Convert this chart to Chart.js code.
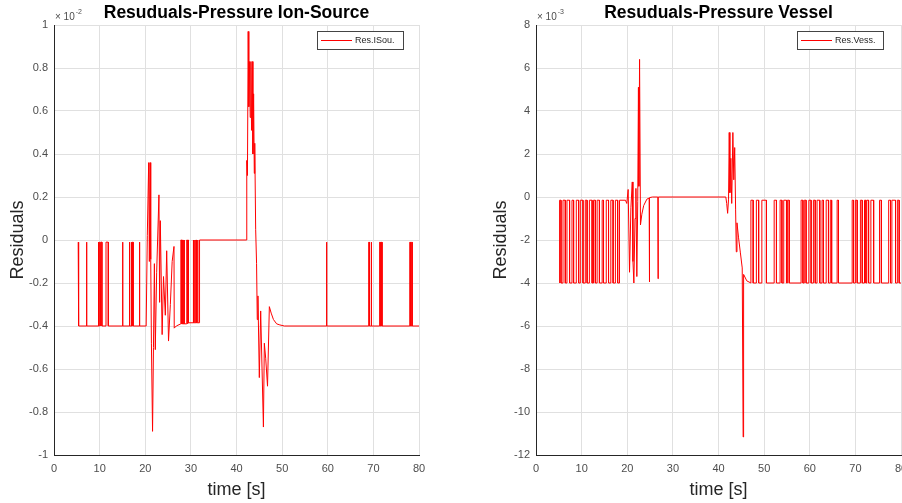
<!DOCTYPE html>
<html>
<head>
<meta charset="utf-8">
<script src="https://cdn.jsdelivr.net/npm/chart.js@4.4.0/dist/chart.umd.min.js"></script>
<style>
  html, body { margin: 0; padding: 0; background: #fff; overflow: hidden; }
  #wrap { position: relative; width: 902px; height: 503px; }
  .box { position: absolute; top: 0; width: 451px; height: 503px; }
</style>
</head>
<body>
<div id="wrap">
  <div class="box" style="left:0"><canvas id="ionChart"></canvas></div>
  <div class="box" style="left:451px"><canvas id="vesChart"></canvas></div>
</div>
<script>
// time axis ticks (s)
const timeTicks = [0, 10, 20, 30, 40, 50, 60, 70, 80];

// Ion source residuals, [time s, residual x 1e-2]
const ionSource = [
  [5.3, -0.01], [5.4, -0.01], [5.4, -0.40],
  [7.1, -0.40], [7.1, -0.01], [7.2, -0.01], [7.2, -0.40],
  [9.7, -0.40], [9.7, -0.01], [9.8, -0.01], [9.8, -0.40],
  [10.0, -0.40], [10.0, -0.01], [10.1, -0.01], [10.1, -0.40],
  [10.3, -0.40], [10.3, -0.01], [10.5, -0.01], [10.5, -0.40],
  [11.4, -0.40], [11.4, -0.01], [11.9, -0.01], [11.9, -0.40],
  [15.0, -0.40], [15.0, -0.01], [15.1, -0.01], [15.1, -0.40],
  [16.5, -0.40], [16.5, -0.01], [16.6, -0.01], [16.6, -0.40],
  [16.9, -0.40], [16.9, -0.01], [17.0, -0.01], [17.0, -0.40],
  [17.2, -0.40], [17.2, -0.01], [17.35, -0.01], [17.35, -0.40],
  [18.7, -0.40], [18.7, -0.01], [18.8, -0.01], [18.8, -0.40],
  [20.2, -0.40], [20.45, 0.02], [20.75, 0.36], [20.9, -0.10], [21.05, 0.36], [21.2, -0.09],
  [21.35, -0.48], [21.6, -0.89], [21.8, -0.50], [22.0, -0.11], [22.2, -0.51], [22.5, -0.15],
  [23.0, 0.21], [23.15, -0.29], [23.3, 0.09], [23.7, -0.44], [24.0, -0.17], [24.4, -0.35],
  [24.7, -0.05], [25.1, -0.47], [25.5, -0.30], [25.9, -0.10], [26.3, -0.03], [26.35, -0.41],
  [26.8, -0.40], [27.8, -0.39],
  [27.8, 0], [28.0, 0], [28.0, -0.39],
  [28.2, -0.39], [28.2, 0], [28.3, 0], [28.3, -0.39],
  [28.5, -0.39], [28.5, 0], [28.6, 0], [28.6, -0.39],
  [29.1, -0.39], [29.1, 0], [29.2, 0], [29.2, -0.39],
  [29.35, -0.39], [29.35, 0], [29.45, 0], [29.45, -0.385],
  [30.5, -0.385], [30.5, 0], [30.6, 0], [30.6, -0.385],
  [30.8, -0.385], [30.8, 0], [30.9, 0], [30.9, -0.385],
  [31.1, -0.385], [31.1, 0], [31.2, 0], [31.2, -0.385],
  [31.45, -0.385], [31.45, 0], [31.55, 0], [31.55, -0.385],
  [31.9, -0.385], [31.9, 0],
  [42.2, 0], [42.25, 0.37], [42.4, 0.30], [42.56, 0.97], [42.7, 0.62], [42.85, 0.83],
  [43.0, 0.57], [43.15, 0.83], [43.3, 0.51], [43.45, 0.83], [43.6, 0.40], [43.75, 0.68],
  [43.9, 0.31], [44.0, 0.45], [44.2, 0.05], [44.4, -0.11], [44.55, -0.37], [44.7, -0.26],
  [45.0, -0.64], [45.3, -0.33], [45.9, -0.87], [46.1, -0.48], [46.4, -0.55], [46.8, -0.68],
  [47.2, -0.31], [47.6, -0.34], [48.1, -0.37], [48.8, -0.39], [49.5, -0.395], [50.5, -0.40],
  [59.7, -0.40], [59.7, -0.01], [59.8, -0.01], [59.8, -0.40],
  [69.0, -0.40], [69.0, -0.01], [69.1, -0.01], [69.1, -0.40],
  [69.5, -0.40], [69.5, -0.01], [69.6, -0.01], [69.6, -0.40],
  [71.4, -0.40], [71.4, -0.01], [71.5, -0.01], [71.5, -0.40],
  [71.8, -0.40], [71.8, -0.01], [71.9, -0.01], [71.9, -0.40],
  [78.0, -0.40], [78.0, -0.01], [78.1, -0.01], [78.1, -0.40],
  [78.4, -0.40], [78.4, -0.01], [78.5, -0.01], [78.5, -0.40],
  [80.0, -0.40]
];

// Vessel residuals, [time s, residual x 1e-3]
const vessel = [
  [5.17, -4.0], [5.17, -0.15], [5.48, -0.15], [5.48, -4.0],
  [5.92, -4.0], [5.92, -0.15], [6.42, -0.15], [6.42, -4.0],
  [6.79, -4.0], [6.79, -0.15], [7.36, -0.15], [7.36, -4.0],
  [7.89, -4.0], [7.89, -0.15], [8.24, -0.15], [8.24, -4.0],
  [8.83, -4.0], [8.83, -0.15], [9.34, -0.15], [9.34, -4.0],
  [9.71, -4.0], [9.71, -0.15], [10.3, -0.15], [10.3, -4.0],
  [10.8, -4.0], [10.8, -0.15], [11.2, -0.15], [11.2, -4.0],
  [11.7, -4.0], [11.7, -0.15], [12.3, -0.15], [12.3, -4.0],
  [12.6, -4.0], [12.6, -0.15], [13.0, -0.15], [13.0, -4.0],
  [13.4, -4.0], [13.4, -0.15], [13.9, -0.15], [13.9, -4.0],
  [14.5, -4.0], [14.5, -0.15], [14.8, -0.15], [14.8, -4.0],
  [15.4, -4.0], [15.4, -0.15], [15.9, -0.15], [15.9, -4.0],
  [16.4, -4.0], [16.4, -0.15], [16.9, -0.15], [16.9, -4.0],
  [17.4, -4.0], [17.4, -0.15], [17.9, -0.15], [17.9, -4.0],
  [18.3, -4.0], [18.3, -0.15], [19.6, -0.15],
  [19.9, -0.3], [20.2, 0.35], [20.5, -3.5], [20.8, -0.5], [21.1, 0.7], [21.25, -3.0],
  [21.45, -4.0], [21.7, -1.0], [21.9, 0.4], [22.1, -3.7], [22.3, -0.2], [22.45, 5.1],
  [22.55, 0.5], [22.7, 6.4], [22.9, -1.3], [23.2, -0.8], [23.6, -0.4], [24.3, -0.1],
  [24.8, -0.05], [24.85, -3.95], [24.9, -0.03], [25.5, 0], [26.7, 0], [26.75, -3.8], [26.8, 0],
  [41.6, 0], [41.8, -0.3], [42.0, -0.76], [42.2, -0.1], [42.35, 3.0], [42.5, 0.2],
  [42.7, 1.8], [42.9, -0.3], [43.15, 3.0], [43.35, 0.8], [43.55, 2.3], [43.75, -0.6],
  [43.9, -2.55], [44.05, -1.2], [44.4, -1.9], [44.8, -2.6], [45.2, -3.3], [45.4, -11.16],
  [45.5, -3.6], [46.2, -3.9], [47.1, -4.0],
  [47.1, -0.15], [47.6, -0.15], [47.6, -4.0],
  [48.3, -4.0], [48.3, -0.15], [48.8, -0.15], [48.8, -4.0],
  [49.5, -4.0], [49.5, -0.15], [50.5, -0.15], [50.5, -4.0],
  [52.2, -4.0], [52.2, -0.15], [52.7, -0.15], [52.7, -4.0],
  [53.5, -4.0], [53.5, -0.15], [53.9, -0.15], [53.9, -4.0],
  [54.3, -4.0], [54.3, -0.15], [54.9, -0.15], [54.9, -4.0],
  [55.1, -4.0], [55.1, -0.15], [55.5, -0.15], [55.5, -4.0],
  [58.1, -4.0], [58.1, -0.15], [58.5, -0.15], [58.5, -4.0],
  [58.8, -4.0], [58.8, -0.15], [59.2, -0.15], [59.2, -4.0],
  [59.8, -4.0], [59.8, -0.15], [60.3, -0.15], [60.3, -4.0],
  [60.8, -4.0], [60.8, -0.15], [61.2, -0.15], [61.2, -4.0],
  [61.6, -4.0], [61.6, -0.15], [62.2, -0.15], [62.2, -4.0],
  [62.7, -4.0], [62.7, -0.15], [63.0, -0.15], [63.0, -4.0],
  [63.6, -4.0], [63.6, -0.15], [64.1, -0.15], [64.1, -4.0],
  [64.5, -4.0], [64.5, -0.15], [64.8, -0.15], [64.8, -4.0],
  [66.0, -4.0], [66.0, -0.15], [66.3, -0.15], [66.3, -4.0],
  [69.3, -4.0], [69.3, -0.15], [69.6, -0.15], [69.6, -4.0],
  [70.0, -4.0], [70.0, -0.15], [70.4, -0.15], [70.4, -4.0],
  [71.1, -4.0], [71.1, -0.15], [71.5, -0.15], [71.5, -4.0],
  [72.0, -4.0], [72.0, -0.15], [72.3, -0.15], [72.3, -4.0],
  [72.5, -4.0], [72.5, -0.15], [72.9, -0.15], [72.9, -4.0],
  [73.4, -4.0], [73.4, -0.15], [74.0, -0.15], [74.0, -4.0],
  [75.3, -4.0], [75.3, -0.15], [75.7, -0.15], [75.7, -4.0],
  [77.3, -4.0], [77.3, -0.15], [77.7, -0.15], [77.7, -4.0],
  [78.0, -4.0], [78.0, -0.15], [78.8, -0.15], [78.8, -4.0],
  [79.2, -4.0], [79.2, -0.15], [79.6, -0.15], [79.6, -4.0],
  [80.0, -4.0]
];

const FONT = '"Liberation Sans", Arial, Helvetica, sans-serif';
const AXIS = '#262626';

// titles, exponent, axis labels and the boxed legend, drawn MATLAB style
const decor = {
  id: 'decor',
  afterDraw(chart, args, o) {
    const ctx = chart.ctx;
    const a = chart.chartArea;
    const mid = (a.left + a.right) / 2;
    ctx.save();
    ctx.textAlign = 'center';
    ctx.textBaseline = 'middle';
    ctx.fillStyle = '#000';
    ctx.font = 'bold 17.5px ' + FONT;
    ctx.fillText(o.title, mid, 13);

    ctx.fillStyle = AXIS;
    ctx.font = '18px ' + FONT;
    ctx.fillText('time [s]', mid, 490);
    ctx.save();
    ctx.translate(o.yTitleX, (a.top + a.bottom) / 2);
    ctx.rotate(-Math.PI / 2);
    ctx.fillText('Residuals', 0, 0);
    ctx.restore();

    // exponent
    ctx.textAlign = 'left';
    ctx.textBaseline = 'alphabetic';
    ctx.fillStyle = '#4d4d4d';
    ctx.font = '10px ' + FONT;
    ctx.fillText('\u00d7 10', a.left + 1, 20);
    const w = ctx.measureText('\u00d7 10').width;
    ctx.font = '7px ' + FONT;
    ctx.fillText(o.exp, a.left + 2 + w, 14);

    // legend
    const bx = a.right - o.legendOff, by = 31, bw = 86, bh = 18;
    ctx.fillStyle = '#fff';
    ctx.fillRect(bx, by, bw, bh);
    ctx.strokeStyle = '#444';
    ctx.lineWidth = 1;
    ctx.strokeRect(bx + 0.5, by + 0.5, bw, bh);
    ctx.strokeStyle = '#ff0000';
    ctx.beginPath();
    ctx.moveTo(bx + 4, by + 9.5);
    ctx.lineTo(bx + 35, by + 9.5);
    ctx.stroke();
    ctx.fillStyle = AXIS;
    ctx.font = '9px ' + FONT;
    ctx.textBaseline = 'middle';
    ctx.fillText(chart.data.datasets[0].label, bx + 38, by + 10);
    ctx.restore();
  }
};

function residualChart(id, points, label, yMin, yMax, yStep, cfg) {
  const ctx = document.getElementById(id).getContext('2d');
  return new Chart(ctx, {
    type: 'line',
    data: {
      datasets: [{
        label: label,
        data: points.map(p => ({ x: p[0], y: p[1] })),
        borderColor: '#ff0000',
        borderWidth: 1,
        pointRadius: 0,
        tension: 0,
        fill: false
      }]
    },
    options: {
      responsive: true,
      maintainAspectRatio: false,
      animation: false,
      layout: { padding: { left: 0, right: cfg.padRight, top: 25, bottom: 0 } },
      plugins: {
        legend: { display: false },
        tooltip: { enabled: false },
        decor: cfg
      },
      scales: {
        x: {
          type: 'linear',
          min: timeTicks[0],
          max: timeTicks[timeTicks.length - 1],
          afterBuildTicks: s => { s.ticks = timeTicks.map(v => ({ value: v })); },
          ticks: { color: '#4d4d4d', font: { family: FONT, size: 11 }, padding: 7, maxRotation: 0 },
          grid: { color: '#e0e0e0', drawTicks: false },
          border: { color: AXIS, width: 1 },
          afterFit: s => { s.height = 48; s.paddingLeft = 0; s.paddingRight = 0; }
        },
        y: {
          min: yMin,
          max: yMax,
          ticks: {
            stepSize: yStep,
            color: '#4d4d4d',
            font: { family: FONT, size: 11 },
            padding: 6,
            callback: v => String(Math.round(v * 10) / 10)
          },
          grid: { color: '#e0e0e0', drawTicks: false },
          border: { color: AXIS, width: 1 },
          afterFit: s => { s.width = cfg.yWidth; }
        }
      }
    },
    plugins: [decor]
  });
}

residualChart('ionChart', ionSource, 'Res.ISou.', -1, 1, 0.2,
  { title: 'Resuduals-Pressure Ion-Source', exp: '-2', yTitleX: 18, yWidth: 54, padRight: 32, legendOff: 102 });
residualChart('vesChart', vessel, 'Res.Vess.', -12, 8, 2,
  { title: 'Resuduals-Pressure Vessel', exp: '-3', yTitleX: 50, yWidth: 85, padRight: 1, legendOff: 104 });
</script>
</body>
</html>
